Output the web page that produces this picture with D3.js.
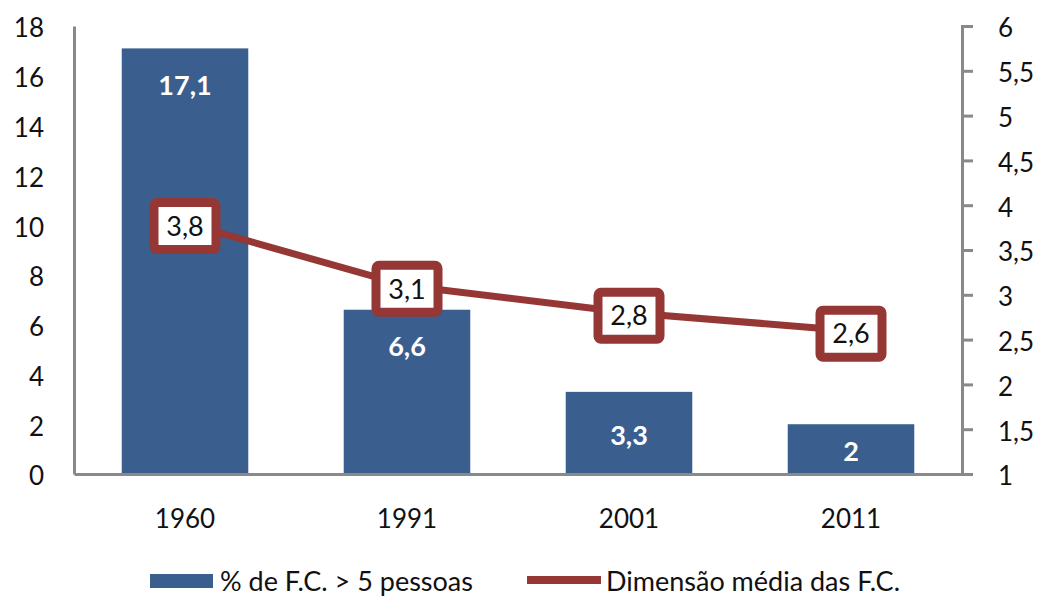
<!DOCTYPE html>
<html>
<head>
<meta charset="utf-8">
<script src="https://cdn.jsdelivr.net/npm/d3@7"></script>
<style>
  html, body { margin: 0; padding: 0; background: #fff; }
  svg { display: block; font-family: Lato, "Open Sans", sans-serif; }
</style>
</head>
<body>
<svg id="chart" width="1039" height="596"></svg>
<script>
const categories = ["1960", "1991", "2001", "2011"];
const pctLarge = [17.1, 6.6, 3.3, 2];
const avgSize = [3.8, 3.1, 2.8, 2.6];
const leftTicks = [0, 2, 4, 6, 8, 10, 12, 14, 16, 18];
const rightTicks = [1, 1.5, 2, 2.5, 3, 3.5, 4, 4.5, 5, 5.5, 6];
const seriesNames = ["% de F.C. > 5 pessoas", "Dimensão média das F.C."];

const barColor = "#3A5F8F";
const lineColor = "#953735";
const axisColor = "#898989";
const fmt = v => String(v).replace(".", ",");

const svg = d3.select("#chart");
const pL = 74, pR = 962, pT = 26, pB = 474;

const x = d3.scaleBand().domain(categories).range([pL, pR]).paddingInner(0.43).paddingOuter(0.215);
const xc = d3.scaleBand().domain(categories).range([pL, pR]);
const yL = d3.scaleLinear().domain([0, 18]).range([pB, pT]);
const yR = d3.scaleLinear().domain([1, 6]).range([pB, pT]);

// bars
svg.selectAll("rect.bar").data(categories).enter().append("rect")
  .attr("class", "bar")
  .attr("x", d => x(d))
  .attr("width", x.bandwidth())
  .attr("y", (d, i) => yL(pctLarge[i]))
  .attr("height", (d, i) => pB - yL(pctLarge[i]))
  .attr("fill", barColor);

// bar labels
svg.selectAll("text.barlab").data(categories).enter().append("text")
  .attr("x", d => x(d) + x.bandwidth() / 2)
  .attr("y", (d, i) => {
    const t = yL(pctLarge[i]), h = pB - t;
    return (h < 100 ? t + h / 2 + 2 : t + 37);
  })
  .attr("dy", "0.36em")
  .attr("text-anchor", "middle")
  .attr("fill", "#fff")
  .attr("font-weight", "bold")
  .attr("font-size", 27)
  .text((d, i) => fmt(pctLarge[i]));

// left axis
const gL = svg.append("g").attr("transform", `translate(${pL},0)`)
  .call(d3.axisLeft(yL).tickValues(leftTicks).tickSize(0).tickPadding(30).tickFormat(fmt));
gL.select(".domain").attr("stroke", axisColor).attr("stroke-width", 3);
gL.selectAll("text").attr("font-size", 26).attr("fill", "#111").attr("font-family", "Lato, sans-serif").attr("dy", "0.42em");

// right axis
const gR = svg.append("g").attr("transform", `translate(${pR},0)`)
  .call(d3.axisRight(yR).tickValues(rightTicks).tickSizeOuter(0).tickSize(11).tickPadding(25).tickFormat(fmt));
gR.select(".domain").attr("stroke", axisColor).attr("stroke-width", 3);
gR.selectAll("line").attr("stroke", axisColor).attr("stroke-width", 3);
gR.selectAll("text").attr("font-size", 26).attr("fill", "#111").attr("font-family", "Lato, sans-serif").attr("dy", "0.42em");

// bottom axis
const gB = svg.append("g").attr("transform", `translate(0,${pB})`)
  .call(d3.axisBottom(xc).tickSize(0).tickPadding(36));
gB.select(".domain").attr("stroke", axisColor).attr("stroke-width", 3);
gB.selectAll("text").attr("font-size", 26).attr("fill", "#111").attr("font-family", "Lato, sans-serif");

// line
const cx = d => xc(d) + xc.bandwidth() / 2;
const line = d3.line().x((d, i) => cx(categories[i])).y(d => yR(d));
svg.append("path").datum(avgSize)
  .attr("d", line)
  .attr("fill", "none")
  .attr("stroke", lineColor)
  .attr("stroke-width", 7);

// line labels
const lab = svg.selectAll("g.linelab").data(categories).enter().append("g")
  .attr("transform", (d, i) => `translate(${cx(d)},${yR(avgSize[i]) + 3})`);
lab.append("rect")
  .attr("x", -31).attr("y", -23.5).attr("width", 62).attr("height", 47)
  .attr("rx", 3)
  .attr("fill", "#fff").attr("stroke", lineColor).attr("stroke-width", 9);
lab.append("text")
  .attr("text-anchor", "middle").attr("dy", "0.36em")
  .attr("font-size", 27).attr("fill", "#111")
  .text((d, i) => fmt(avgSize[i]));

// legend
const lg = svg.append("g");
lg.append("rect").attr("x", 150).attr("y", 574).attr("width", 63).attr("height", 14).attr("fill", barColor);
lg.append("text").attr("x", 220).attr("y", 591).attr("font-size", 27).attr("fill", "#111").text(seriesNames[0]);
lg.append("line").attr("x1", 527).attr("x2", 601).attr("y1", 580).attr("y2", 580)
  .attr("stroke", lineColor).attr("stroke-width", 8);
lg.append("text").attr("x", 606).attr("y", 591).attr("font-size", 27).attr("fill", "#111").text(seriesNames[1]);
</script>
</body>
</html>
